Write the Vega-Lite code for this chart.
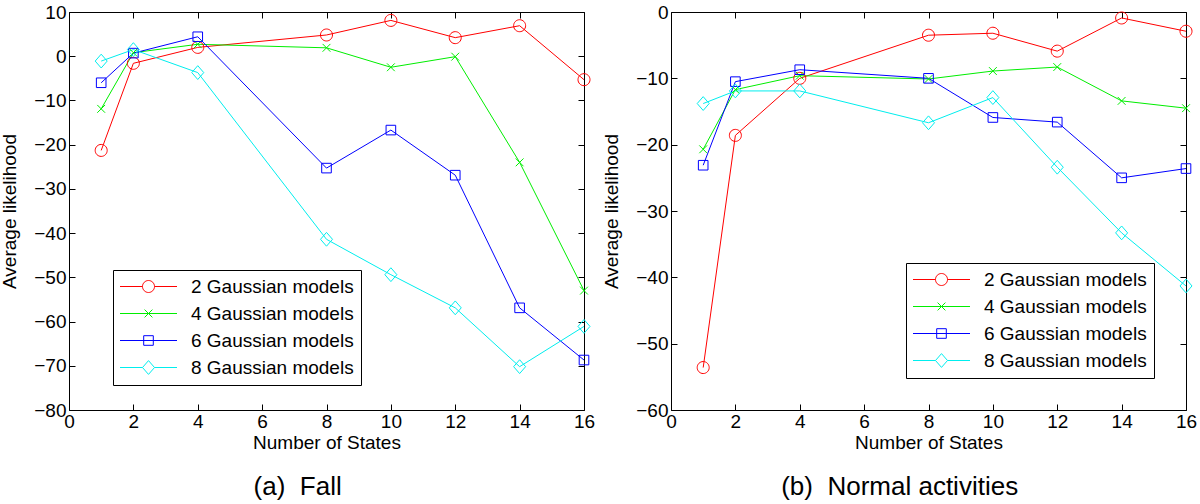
{
  "$schema": "https://vega.github.io/schema/vega-lite/v6.json",
  "background": "white",
  "padding": {"left": 0, "top": 2, "right": 12, "bottom": 2},
  "config": {
    "font": "Liberation Sans",
    "view": {"stroke": "black", "strokeWidth": 1},
    "axis": {
      "domain": false, "grid": false, "tickColor": "black", "tickSize": -6, "tickWidth": 1,
      "labelPadding": 9, "labelFontSize": 19, "labelColor": "black", "labelFlush": false,
      "titleFontSize": 19, "titleFontWeight": "normal", "titleColor": "black"
    },
    "axisX": {"labelPadding": 8},
    "legend": {
      "labelFontSize": 19, "labelColor": "black", "labelLimit": 400, "strokeColor": "black", "fillColor": "white",
      "padding": 7, "rowPadding": 7, "symbolSize": 144, "symbolStrokeWidth": 1, "symbolOffset": 19, "labelOffset": 33
    }
  },
  "datasets": {
    "fall": [
      {"n": 1, "m": "2 Gaussian models", "v": -21.3}, {"n": 2, "m": "2 Gaussian models", "v": -1.6}, {"n": 4, "m": "2 Gaussian models", "v": 2.0}, {"n": 8, "m": "2 Gaussian models", "v": 4.8}, {"n": 10, "m": "2 Gaussian models", "v": 8.1}, {"n": 12, "m": "2 Gaussian models", "v": 4.2}, {"n": 14, "m": "2 Gaussian models", "v": 6.9}, {"n": 16, "m": "2 Gaussian models", "v": -5.3},
      {"n": 1, "m": "4 Gaussian models", "v": -11.9}, {"n": 2, "m": "4 Gaussian models", "v": 0.8}, {"n": 4, "m": "4 Gaussian models", "v": 2.7}, {"n": 8, "m": "4 Gaussian models", "v": 1.9}, {"n": 10, "m": "4 Gaussian models", "v": -2.5}, {"n": 12, "m": "4 Gaussian models", "v": -0.1}, {"n": 14, "m": "4 Gaussian models", "v": -24.0}, {"n": 16, "m": "4 Gaussian models", "v": -53.0},
      {"n": 1, "m": "6 Gaussian models", "v": -6.0}, {"n": 2, "m": "6 Gaussian models", "v": 0.7}, {"n": 4, "m": "6 Gaussian models", "v": 4.4}, {"n": 8, "m": "6 Gaussian models", "v": -25.3}, {"n": 10, "m": "6 Gaussian models", "v": -16.7}, {"n": 12, "m": "6 Gaussian models", "v": -26.9}, {"n": 14, "m": "6 Gaussian models", "v": -56.9}, {"n": 16, "m": "6 Gaussian models", "v": -68.7},
      {"n": 1, "m": "8 Gaussian models", "v": -1.1}, {"n": 2, "m": "8 Gaussian models", "v": 1.5}, {"n": 4, "m": "8 Gaussian models", "v": -3.7}, {"n": 8, "m": "8 Gaussian models", "v": -41.4}, {"n": 10, "m": "8 Gaussian models", "v": -49.4}, {"n": 12, "m": "8 Gaussian models", "v": -56.9}, {"n": 14, "m": "8 Gaussian models", "v": -70.2}, {"n": 16, "m": "8 Gaussian models", "v": -61.1}
    ],
    "normal": [
      {"n": 1, "m": "2 Gaussian models", "v": -53.6}, {"n": 2, "m": "2 Gaussian models", "v": -18.6}, {"n": 4, "m": "2 Gaussian models", "v": -10.0}, {"n": 8, "m": "2 Gaussian models", "v": -3.5}, {"n": 10, "m": "2 Gaussian models", "v": -3.2}, {"n": 12, "m": "2 Gaussian models", "v": -5.9}, {"n": 14, "m": "2 Gaussian models", "v": -0.9}, {"n": 16, "m": "2 Gaussian models", "v": -2.9},
      {"n": 1, "m": "4 Gaussian models", "v": -20.7}, {"n": 2, "m": "4 Gaussian models", "v": -11.7}, {"n": 4, "m": "4 Gaussian models", "v": -9.6}, {"n": 8, "m": "4 Gaussian models", "v": -10.1}, {"n": 10, "m": "4 Gaussian models", "v": -8.9}, {"n": 12, "m": "4 Gaussian models", "v": -8.3}, {"n": 14, "m": "4 Gaussian models", "v": -13.4}, {"n": 16, "m": "4 Gaussian models", "v": -14.5},
      {"n": 1, "m": "6 Gaussian models", "v": -23.1}, {"n": 2, "m": "6 Gaussian models", "v": -10.5}, {"n": 4, "m": "6 Gaussian models", "v": -8.7}, {"n": 8, "m": "6 Gaussian models", "v": -10.0}, {"n": 10, "m": "6 Gaussian models", "v": -15.9}, {"n": 12, "m": "6 Gaussian models", "v": -16.6}, {"n": 14, "m": "6 Gaussian models", "v": -25.0}, {"n": 16, "m": "6 Gaussian models", "v": -23.6},
      {"n": 1, "m": "8 Gaussian models", "v": -13.8}, {"n": 2, "m": "8 Gaussian models", "v": -11.9}, {"n": 4, "m": "8 Gaussian models", "v": -11.9}, {"n": 8, "m": "8 Gaussian models", "v": -16.7}, {"n": 10, "m": "8 Gaussian models", "v": -12.9}, {"n": 12, "m": "8 Gaussian models", "v": -23.4}, {"n": 14, "m": "8 Gaussian models", "v": -33.3}, {"n": 16, "m": "8 Gaussian models", "v": -41.3}
    ]
  },
  "spacing": 6,
  "resolve": {"legend": {"color": "independent", "shape": "independent"}, "scale": {"color": "independent", "shape": "independent"}},
  "hconcat": [
    {
      "width": 515, "height": 398,
      "data": {"name": "fall"},
      "title": {"text": "(a)\u00a0 Fall", "orient": "bottom", "fontSize": 26, "fontWeight": "normal", "color": "black", "anchor": "middle", "frame": "bounds", "offset": 22},
      "resolve": {"axis": {"x": "independent", "y": "independent"}},
      "encoding": {
        "x": {"field": "n", "type": "quantitative", "scale": {"domain": [0, 16], "nice": false, "zero": false}, "axis": null},
        "y": {"field": "v", "type": "quantitative", "scale": {"domain": [-80, 10], "nice": false, "zero": false}, "axis": null},
        "color": {"field": "m", "type": "nominal", "scale": {"domain": ["2 Gaussian models", "4 Gaussian models", "6 Gaussian models", "8 Gaussian models"], "range": ["#ff0000", "#00ee00", "#0000ff", "#00eeee"]}, "legend": {"title": null, "orient": "none", "legendX": 44, "legendY": 258}}
      },
      "layer": [
        {
          "mark": {"type": "line", "strokeWidth": 1},
          "encoding": {
            "x": {"field": "n", "type": "quantitative", "scale": {"domain": [0, 16], "nice": false, "zero": false}, "axis": {"orient": "bottom", "values": [0, 2, 4, 6, 8, 10, 12, 14, 16], "title": "Number of States", "titlePadding": 2}},
            "y": {"field": "v", "type": "quantitative", "scale": {"domain": [-80, 10], "nice": false, "zero": false}, "axis": {"orient": "left", "values": [-80, -70, -60, -50, -40, -30, -20, -10, 0, 10], "title": "Average likelihood", "titlePadding": 14}}
          }
        },
        {"transform": [{"filter": "datum.m === '2 Gaussian models'"}], "mark": {"type": "point", "filled": false, "size": 144, "strokeWidth": 1, "opacity": 1, "shape": "M-1,0A1,1,0,1,1,1,0A1,1,0,1,1,-1,0Z"}},
        {"transform": [{"filter": "datum.m === '4 Gaussian models'"}], "mark": {"type": "point", "filled": false, "size": 144, "strokeWidth": 1, "opacity": 1, "shape": "M-0.65,-0.65L0.65,0.65M0.65,-0.65L-0.65,0.65"}},
        {"transform": [{"filter": "datum.m === '6 Gaussian models'"}], "mark": {"type": "point", "filled": false, "size": 144, "strokeWidth": 1, "opacity": 1, "shape": "M-0.8,-0.8H0.8V0.8H-0.8Z"}},
        {"transform": [{"filter": "datum.m === '8 Gaussian models'"}], "mark": {"type": "point", "filled": false, "size": 144, "strokeWidth": 1, "opacity": 1, "shape": "M0,-1.15L1,0L0,1.15L-1,0Z"}},
        {
          "transform": [{"filter": "false"}],
          "mark": {"type": "point", "filled": false, "size": 144, "strokeWidth": 1, "opacity": 1},
          "encoding": {
            "x": {"field": "n", "type": "quantitative", "scale": {"domain": [0, 16], "nice": false, "zero": false}, "axis": {"orient": "top", "values": [0, 2, 4, 6, 8, 10, 12, 14, 16], "labels": false, "title": null}},
            "y": {"field": "v", "type": "quantitative", "scale": {"domain": [-80, 10], "nice": false, "zero": false}, "axis": {"orient": "right", "values": [-80, -70, -60, -50, -40, -30, -20, -10, 0, 10], "labels": false, "title": null}},
            "shape": {"field": "m", "type": "nominal", "scale": {"domain": ["2 Gaussian models", "4 Gaussian models", "6 Gaussian models", "8 Gaussian models"], "range": ["M-4.75,0H-1M1,0H4.75M-1,0A1,1,0,1,1,1,0A1,1,0,1,1,-1,0", "M-4.75,0H4.75M-0.65,-0.65L0.65,0.65M0.65,-0.65L-0.65,0.65", "M-4.75,0H4.75M-0.8,-0.8H0.8V0.8H-0.8Z", "M-4.75,0H-1M1,0H4.75M0,-1.15L1,0L0,1.15L-1,0Z"]}, "legend": {"title": null, "orient": "none", "legendX": 44, "legendY": 258}}
          }
        }
      ]
    },
    {
      "width": 515, "height": 398,
      "data": {"name": "normal"},
      "title": {"text": "(b)\u00a0 Normal activities", "orient": "bottom", "fontSize": 26, "fontWeight": "normal", "color": "black", "anchor": "middle", "frame": "bounds", "offset": 22},
      "resolve": {"axis": {"x": "independent", "y": "independent"}},
      "encoding": {
        "x": {"field": "n", "type": "quantitative", "scale": {"domain": [0, 16], "nice": false, "zero": false}, "axis": null},
        "y": {"field": "v", "type": "quantitative", "scale": {"domain": [-60, 0], "nice": false, "zero": false}, "axis": null},
        "color": {"field": "m", "type": "nominal", "scale": {"domain": ["2 Gaussian models", "4 Gaussian models", "6 Gaussian models", "8 Gaussian models"], "range": ["#ff0000", "#00ee00", "#0000ff", "#00eeee"]}, "legend": {"title": null, "orient": "none", "legendX": 235, "legendY": 251}}
      },
      "layer": [
        {
          "mark": {"type": "line", "strokeWidth": 1},
          "encoding": {
            "x": {"field": "n", "type": "quantitative", "scale": {"domain": [0, 16], "nice": false, "zero": false}, "axis": {"orient": "bottom", "values": [0, 2, 4, 6, 8, 10, 12, 14, 16], "title": "Number of States", "titlePadding": 2}},
            "y": {"field": "v", "type": "quantitative", "scale": {"domain": [-60, 0], "nice": false, "zero": false}, "axis": {"orient": "left", "values": [-60, -50, -40, -30, -20, -10, 0], "title": "Average likelihood", "titlePadding": 14}}
          }
        },
        {"transform": [{"filter": "datum.m === '2 Gaussian models'"}], "mark": {"type": "point", "filled": false, "size": 144, "strokeWidth": 1, "opacity": 1, "shape": "M-1,0A1,1,0,1,1,1,0A1,1,0,1,1,-1,0Z"}},
        {"transform": [{"filter": "datum.m === '4 Gaussian models'"}], "mark": {"type": "point", "filled": false, "size": 144, "strokeWidth": 1, "opacity": 1, "shape": "M-0.65,-0.65L0.65,0.65M0.65,-0.65L-0.65,0.65"}},
        {"transform": [{"filter": "datum.m === '6 Gaussian models'"}], "mark": {"type": "point", "filled": false, "size": 144, "strokeWidth": 1, "opacity": 1, "shape": "M-0.8,-0.8H0.8V0.8H-0.8Z"}},
        {"transform": [{"filter": "datum.m === '8 Gaussian models'"}], "mark": {"type": "point", "filled": false, "size": 144, "strokeWidth": 1, "opacity": 1, "shape": "M0,-1.15L1,0L0,1.15L-1,0Z"}},
        {
          "transform": [{"filter": "false"}],
          "mark": {"type": "point", "filled": false, "size": 144, "strokeWidth": 1, "opacity": 1},
          "encoding": {
            "x": {"field": "n", "type": "quantitative", "scale": {"domain": [0, 16], "nice": false, "zero": false}, "axis": {"orient": "top", "values": [0, 2, 4, 6, 8, 10, 12, 14, 16], "labels": false, "title": null}},
            "y": {"field": "v", "type": "quantitative", "scale": {"domain": [-60, 0], "nice": false, "zero": false}, "axis": {"orient": "right", "values": [-60, -50, -40, -30, -20, -10, 0], "labels": false, "title": null}},
            "shape": {"field": "m", "type": "nominal", "scale": {"domain": ["2 Gaussian models", "4 Gaussian models", "6 Gaussian models", "8 Gaussian models"], "range": ["M-4.75,0H-1M1,0H4.75M-1,0A1,1,0,1,1,1,0A1,1,0,1,1,-1,0", "M-4.75,0H4.75M-0.65,-0.65L0.65,0.65M0.65,-0.65L-0.65,0.65", "M-4.75,0H4.75M-0.8,-0.8H0.8V0.8H-0.8Z", "M-4.75,0H-1M1,0H4.75M0,-1.15L1,0L0,1.15L-1,0Z"]}, "legend": {"title": null, "orient": "none", "legendX": 235, "legendY": 251}}
          }
        }
      ]
    }
  ]
}
